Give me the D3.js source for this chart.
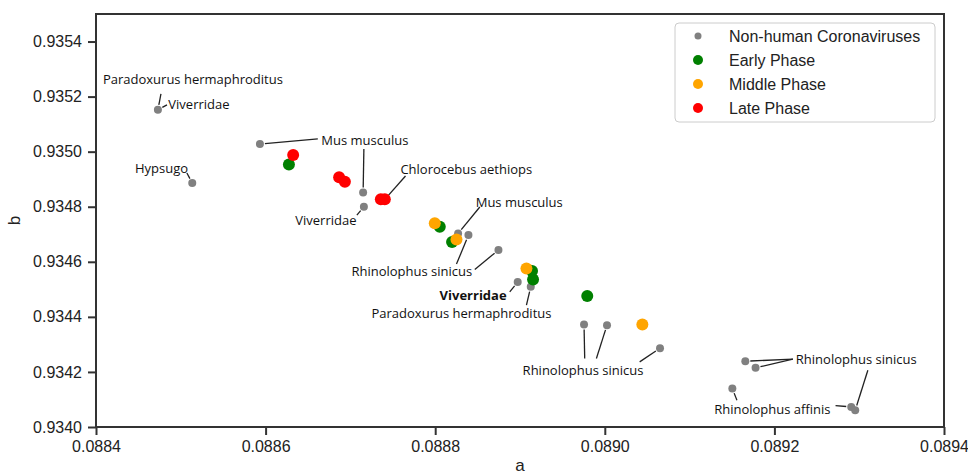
<!DOCTYPE html>
<html>
<head>
<meta charset="utf-8">
<script src="https://cdn.jsdelivr.net/npm/d3@7"></script>
<style>
body{margin:0;background:#fff}
.tick text{font-family:"Liberation Sans",Arial,sans-serif;font-size:16px;fill:#222}
.note{font-family:"Open Sans",sans-serif;font-size:13px;fill:#111}
</style>
</head>
<body>
<svg></svg>
<script>
// non-human coronaviruses (grey)
var grayA = [0.088473,0.0885933,0.0885135,0.088715,0.0887159,0.088827,0.0888392,0.0888746,0.0888973,0.0889127,0.0889755,0.0890026,0.0890651,0.0891657,0.0891778,0.0891504,0.0892906,0.0892953]
var grayB = [0.935152,0.935028,0.934886,0.934852,0.934800,0.934703,0.934697,0.934643,0.934527,0.934509,0.934372,0.934370,0.934286,0.934239,0.934215,0.934140,0.934073,0.934061]

var earlyA = [0.0886275,0.0888054,0.0888199,0.0889142,0.0889154,0.0889793]
var earlyB = [0.934953,0.934727,0.934672,0.934567,0.934536,0.934476]

var middleA = [0.0887995,0.0888251,0.0889076,0.0890443]
var middleB = [0.934740,0.934681,0.934576,0.934372]

var lateA = [0.0886325,0.0886867,0.0886935,0.0887359,0.0887406]
var lateB = [0.934988,0.934907,0.934891,0.934827,0.934827]

var xTicks = [0.0884,0.0886,0.0888,0.0890,0.0892,0.0894]
var yTicks = [0.9340,0.9342,0.9344,0.9346,0.9348,0.9350,0.9352,0.9354]

var legendNames = ["Non-human Coronaviruses","Early Phase","Middle Phase","Late Phase"]

// annotation labels, placed in data units
var noteText = ["Paradoxurus hermaphroditus","Viverridae","Mus musculus","Hypsugo","Viverridae","Chlorocebus aethiops","Mus musculus","Rhinolophus sinicus","Viverridae","Paradoxurus hermaphroditus","Rhinolophus sinicus","Rhinolophus sinicus","Rhinolophus affinis"]
var noteA = [0.0885143,0.0885214,0.0887170,0.0884772,0.0886711,0.0888367,0.0888991,0.0887724,0.0888447,0.0888310,0.0889743,0.0892965,0.0891976]
var noteB = [0.9352644,0.9351735,0.9350425,0.9349407,0.9347516,0.9349371,0.9348182,0.9345673,0.9344789,0.9344145,0.9342062,0.9342487,0.9340644]
var noteBold = [false,false,false,false,false,false,false,false,true,false,false,false,false]

// leader lines: start (data units) -> series point
var leaders = [
  {a:0.0884766,b:0.935210,s:"gray",i:0},
  {a:0.0884837,b:0.9351698,s:"gray",i:0},
  {a:0.0886616,b:0.9350462,s:"gray",i:1},
  {a:0.0887159,b:0.9350098,s:"gray",i:3},
  {a:0.0885072,b:0.9349225,s:"gray",i:2},
  {a:0.0887076,b:0.9347698,s:"gray",i:4},
  {a:0.0887650,b:0.9349116,s:"late",i:4},
  {a:0.0888526,b:0.9347989,s:"gray",i:5},
  {a:0.0888251,b:0.9345916,s:"gray",i:6},
  {a:0.0888467,b:0.9345724,s:"gray",i:7},
  {a:0.0888879,b:0.9344909,s:"gray",i:8},
  {a:0.0889076,b:0.9344425,s:"gray",i:9},
  {a:0.0889763,b:0.9342487,s:"gray",i:10},
  {a:0.0889901,b:0.9342487,s:"gray",i:11},
  {a:0.0890411,b:0.9342364,s:"gray",i:12},
  {a:0.0892218,b:0.9342462,s:"gray",i:13},
  {a:0.0892218,b:0.9342462,s:"gray",i:14},
  {a:0.0893102,b:0.9342062,s:"gray",i:17},
  {a:0.0892721,b:0.9340778,s:"gray",i:16},
  {a:0.0891558,b:0.9340971,s:"gray",i:15}
]

var screen = {width:968,height:476}
var margins = {top:14,right:24,left:96,bottom:49}

var width = screen.width - margins.left - margins.right
var height = screen.height - margins.top - margins.bottom

var series = {
  gray:{a:grayA,b:grayB,color:"#808080",r:4},
  early:{a:earlyA,b:earlyB,color:"#008000",r:6},
  middle:{a:middleA,b:middleB,color:"#FFA500",r:6},
  late:{a:lateA,b:lateB,color:"#FF0000",r:6}
}
var order = ["gray","early","middle","late"]

var xScale = d3.scaleLinear().domain([0.0884,0.0894]).range([0,width])
var yScale = d3.scaleLinear().domain([0.9340,0.93550]).range([height,0])

var svg = d3.select("svg")
  .attr("width",screen.width)
  .attr("height",screen.height)

var graph = svg.append("g")
  .attr("id","graph")
  .attr("transform","translate("+margins.left+","+margins.top+")")

var xAxis = d3.axisBottom(xScale).tickValues(xTicks).tickFormat(d3.format(".4f")).tickSize(8).tickPadding(6)
var yAxis = d3.axisLeft(yScale).tickValues(yTicks).tickFormat(d3.format(".4f")).tickSize(8).tickPadding(6)

graph.append("g")
  .attr("transform","translate(0,"+height+")")
  .call(xAxis)
graph.append("g")
  .call(yAxis)

graph.selectAll(".domain").remove()
graph.selectAll(".tick line").attr("stroke","#333").attr("stroke-width",2)

// frame
graph.append("rect")
  .attr("width",width)
  .attr("height",height)
  .attr("fill","none")
  .attr("stroke","#333")
  .attr("stroke-width",2)

// axis titles
svg.append("text")
  .attr("x",margins.left+width/2)
  .attr("y",471)
  .attr("text-anchor","middle")
  .style("font-family","Liberation Sans, Arial, sans-serif")
  .style("font-size","17px")
  .attr("fill","#222")
  .text("a")
svg.append("text")
  .attr("transform","translate(20,"+(margins.top+height/2)+") rotate(-90)")
  .attr("text-anchor","middle")
  .style("font-family","Liberation Sans, Arial, sans-serif")
  .style("font-size","17px")
  .attr("fill","#222")
  .text("b")

// leader lines
var pointPos = function(s,i)
{
    return [xScale(series[s].a[i]),yScale(series[s].b[i])]
}

graph.selectAll(".leader")
  .data(leaders)
  .enter()
  .append("line")
  .attr("class","leader")
  .attr("x1",function(d){return xScale(d.a)})
  .attr("y1",function(d){return yScale(d.b)})
  .attr("x2",function(d){
      var p = pointPos(d.s,d.i)
      var dx = p[0]-xScale(d.a), dy = p[1]-yScale(d.b)
      var len = Math.sqrt(dx*dx+dy*dy)
      return p[0]-dx/len*5
  })
  .attr("y2",function(d){
      var p = pointPos(d.s,d.i)
      var dx = p[0]-xScale(d.a), dy = p[1]-yScale(d.b)
      var len = Math.sqrt(dx*dx+dy*dy)
      return p[1]-dy/len*5
  })
  .attr("stroke","#222")
  .attr("stroke-width",1.3)

// points
order.forEach(function(key){
    var s = series[key]
    graph.selectAll(".pt-"+key)
      .data(s.a)
      .enter()
      .append("circle")
      .attr("class","pt-"+key)
      .attr("cx",function(a){return xScale(a)})
      .attr("cy",function(a,i){return yScale(s.b[i])})
      .attr("r",s.r)
      .attr("fill",s.color)
})

// annotation labels
graph.selectAll(".note")
  .data(noteText)
  .enter()
  .append("text")
  .attr("class","note")
  .attr("x",function(t,i){return xScale(noteA[i])})
  .attr("y",function(t,i){return yScale(noteB[i])})
  .attr("text-anchor","middle")
  .attr("dominant-baseline","central")
  .style("font-weight",function(t,i){return noteBold[i] ? "bold" : "normal"})
  .text(function(t){return t})

// legend
var legend = svg.append("g").attr("transform","translate(675,23)")
legend.append("rect")
  .attr("width",260)
  .attr("height",99)
  .attr("rx",4)
  .attr("fill","#fff")
  .attr("fill-opacity",0.8)
  .attr("stroke","#ccc")
  .attr("stroke-width",1)

legend.selectAll(".lg")
  .data(legendNames)
  .enter()
  .append("circle")
  .attr("cx",23)
  .attr("cy",function(n,i){return 13+i*24})
  .attr("r",function(n,i){return i==0 ? 3.5 : 5})
  .attr("fill",function(n,i){return series[order[i]].color})

legend.selectAll(".lt")
  .data(legendNames)
  .enter()
  .append("text")
  .attr("x",54)
  .attr("y",function(n,i){return 13+i*24})
  .attr("dominant-baseline","central")
  .style("font-family","Liberation Sans, Arial, sans-serif")
  .style("font-size","16px")
  .attr("fill","#222")
  .text(function(n){return n})
</script>
</body>
</html>
